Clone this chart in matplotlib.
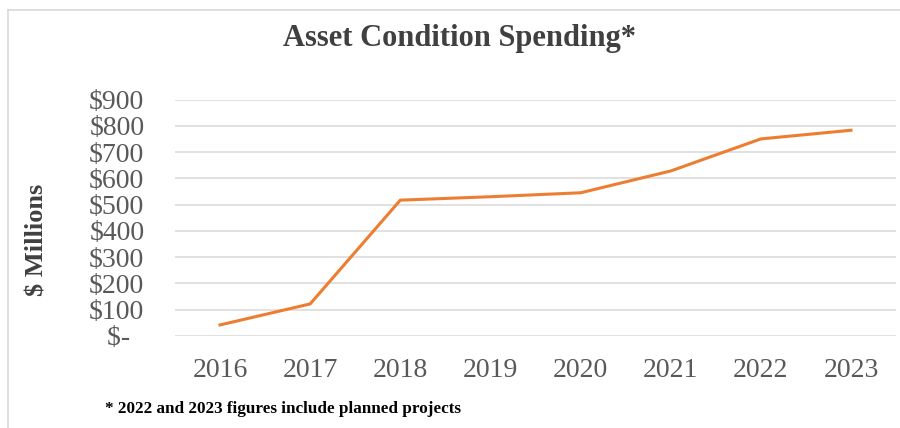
import matplotlib.pyplot as plt
from matplotlib.lines import Line2D

years = ["2016", "2017", "2018", "2019", "2020", "2021", "2022", "2023"]
spending = [42, 122, 517, 530, 545, 628, 750, 783]
y_ticks = [0, 100, 200, 300, 400, 500, 600, 700, 800, 900]
y_labels = ["$-  ", "$100", "$200", "$300", "$400", "$500", "$600", "$700", "$800", "$900"]

plt.rcParams['font.family'] = ['Liberation Serif', 'DejaVu Serif']

fig = plt.figure(figsize=(9, 4.28), dpi=100)
ax = fig.add_axes([0.1944, 0.215, 0.8012, 0.5525])

x = range(len(years))
ax.plot(x, spending, color="#ED7D31", linewidth=2.2, solid_joinstyle="miter")

ax.set_xlim(-0.5, len(years) - 0.5)
ax.set_ylim(0, 900)
ax.set_yticks(y_ticks)
ax.set_yticklabels(y_labels)
ax.set_xticks(list(x))
ax.set_xticklabels(years)
ax.grid(axis="y", color="#d9d9d9", linewidth=1.1)
ax.set_axisbelow(True)
for s in ax.spines.values():
    s.set_visible(False)
ax.tick_params(axis="both", length=0, labelsize=20, labelcolor="#595959")
ax.tick_params(axis="y", pad=22)
ax.tick_params(axis="x", pad=16)

fig.text(0.511, 0.91, "Asset Condition Spending*", ha="center", va="center",
         fontsize=22, fontweight="bold", color="#404040")
fig.text(0.041, 0.439, "$ Millions", rotation=90, ha="center", va="center",
         fontsize=19, fontweight="bold", color="#404040")
fig.text(0.117, 0.044, "* 2022 and 2023 figures include planned projects",
         ha="left", va="center", fontsize=12.3, fontweight="bold", color="black")

# chart border (cropped on right and bottom)
fig.add_artist(Line2D([7.5 / 900, 1], [1 - 10 / 428] * 2, transform=fig.transFigure,
                      color="#d9d9d9", linewidth=1.2))
fig.add_artist(Line2D([7.5 / 900] * 2, [0, 1 - 10 / 428], transform=fig.transFigure,
                      color="#d9d9d9", linewidth=1.2))

fig.savefig("out.png", dpi=100)
